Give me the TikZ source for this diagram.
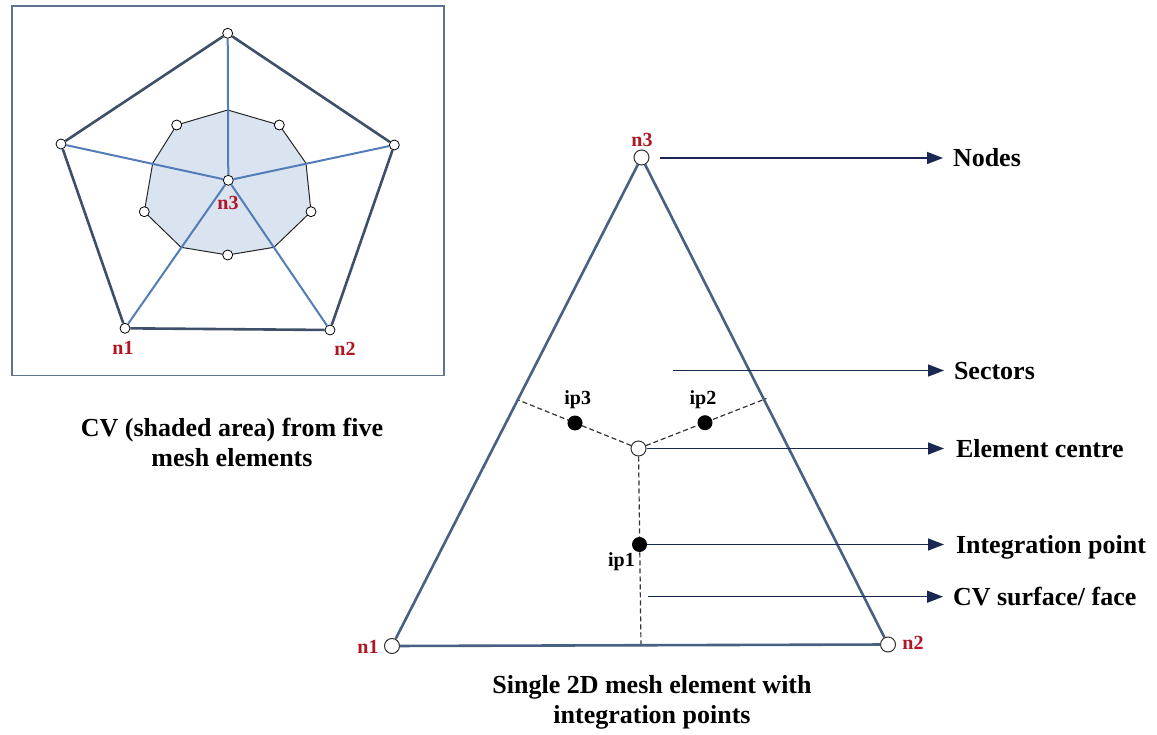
\documentclass[tikz,border=0pt]{standalone}
\usepackage{fontspec}
\setmainfont{Liberation Serif}
\usetikzlibrary{arrows.meta}
\definecolor{edgeblue}{RGB}{72,96,130}
\definecolor{pentedge}{RGB}{62,80,105}
\definecolor{spoke}{RGB}{82,125,182}
\definecolor{cvfill}{RGB}{218,227,240}
\definecolor{boxline}{RGB}{95,115,145}
\definecolor{navy}{RGB}{25,40,82}
\definecolor{lblred}{RGB}{178,22,34}
\tikzset{
  smallpt/.style={circle,draw=black,fill=white,line width=0.8pt,minimum size=10pt,inner sep=0pt},
  bigpt/.style={circle,draw=black!80,fill=white,line width=1pt,minimum size=15pt,inner sep=0pt},
  ippt/.style={circle,fill=black,minimum size=15pt,inner sep=0pt},
  redlbl/.style={text=lblred,font=\bfseries\fontsize{20}{23}\selectfont,inner sep=0pt},
  iplbl/.style={text=black,font=\bfseries\fontsize{20}{23}\selectfont,inner sep=0pt},
  pentline/.style={draw=pentedge,line width=2.6pt},
  spokeline/.style={draw=spoke,line width=2pt},
  triline/.style={draw=edgeblue,line width=2.6pt},
  dashline/.style={draw=black!80,line width=1.2pt,dash pattern=on 5pt off 3pt},
  arr/.style={draw=navy,line width=1.5pt,-{Triangle[length=16pt,width=12pt]}},
  keytext/.style={anchor=west,inner sep=0pt,outer sep=0pt,font=\bfseries\fontsize{26}{30}\selectfont,text height=17pt,text depth=0pt},
  caption/.style={align=center,font=\bfseries\fontsize{26}{30}\selectfont,inner sep=0pt}
}
\begin{document}
\begin{tikzpicture}[x=1pt,y=-1pt]
\useasboundingbox (0,0) rectangle (1157,735);
% ---------- left panel ----------
\draw[boxline,line width=1.5pt] (12,6) rectangle (444,375.5);
% control volume (decagon)
\coordinate (d1) at (227.7,110);
\coordinate (d2) at (279.3,125);
\coordinate (d3) at (306,163.3);
\coordinate (d4) at (311,211.7);
\coordinate (d5) at (274,247.3);
\coordinate (d6) at (227.7,255);
\coordinate (d7) at (181,247.3);
\coordinate (d8) at (144.3,211.7);
\coordinate (d9) at (152.7,163.3);
\coordinate (d10) at (176.7,125);
\filldraw[fill=cvfill,draw=black!85,line width=1pt] (d1) -- (d2) -- (d3) -- (d4) -- (d5) -- (d6) -- (d7) -- (d8) -- (d9) -- (d10) -- cycle;
% pentagon nodes
\node[smallpt] (P1) at (227.7,33.3) {};
\node[smallpt] (P2) at (394.3,145) {};
\node[smallpt] (P3) at (330,330) {};
\node[smallpt] (P4) at (125,328.3) {};
\node[smallpt] (P5) at (61,144) {};
\node[smallpt] (PC) at (228.3,180.3) {};
\foreach \p in {P1,P2,P3,P4,P5} \draw[spokeline] (PC) -- (\p);
\draw[pentline] (P1) -- (P2);
\draw[pentline] (P2) -- (P3);
\draw[pentline] (P3) -- (P4);
\draw[pentline] (P4) -- (P5);
\draw[pentline] (P5) -- (P1);
\node[smallpt] (c2) at (d2) {};
\node[smallpt] (c4) at (d4) {};
\node[smallpt] (c6) at (d6) {};
\node[smallpt] (c8) at (d8) {};
\node[smallpt] (c10) at (d10) {};
\node[redlbl] (Ln3) at (228,203) {n3};
\node[redlbl] (Ln1) at (123,348) {n1};
\node[redlbl] (Ln2) at (345,349) {n2};
\node[caption] (capL) at (232,442) {CV (shaded area) from five\\mesh elements};
% ---------- right panel ----------
\node[bigpt] (N1) at (392,646) {};
\node[bigpt] (N2) at (888,644.5) {};
\node[bigpt] (N3) at (641.5,157.5) {};
\coordinate (m13) at (517,399.5);
\coordinate (m23) at (766.5,398.5);
\coordinate (mb) at (641,646);
\draw[dashline] (638.5,448.5) -- (m13);
\draw[dashline] (638.5,448.5) -- (m23);
\draw[dashline] (638.5,448.5) -- (mb);
\draw[triline] (N1) -- (N3);
\draw[triline] (N3) -- (N2);
\draw[triline] (N1) -- (N2);
\node[bigpt] (E) at (638.5,448.5) {};
\node[ippt] (ip1) at (639.5,544.5) {};
\node[ippt] (ip2) at (705,422.7) {};
\node[ippt] (ip3) at (575,423) {};
\node[redlbl] (Rn3) at (642,140) {n3};
\node[redlbl] (Rn1) at (368,647) {n1};
\node[redlbl] (Rn2) at (913,643) {n2};
\node[iplbl] (Lip1) at (621.5,561.5) {ip1};
\node[iplbl] (Lip2) at (703,400) {ip2};
\node[iplbl] (Lip3) at (577.7,400) {ip3};
% key
\node[keytext] (kNodes) at (953,158) {Nodes};
\node[keytext] (kSectors) at (954,370.5) {Sectors};
\node[keytext] (kCentre) at (956,448.5) {Element centre};
\node[keytext] (kIP) at (956,544.5) {Integration point};
\node[keytext] (kCV) at (953,596.7) {CV surface/ face};
\coordinate (sNodes) at (660,158);
\coordinate (sSectors) at (673,370.5);
\coordinate (sCV) at (648,596.7);
\draw[arr,shorten >=10pt] (sNodes) -- (kNodes.west);
\draw[arr,shorten >=10pt] (sSectors) -- (kSectors.west);
\draw[arr,shorten >=12pt] (E) -- (kCentre.west);
\draw[arr,shorten >=12pt] (ip1) -- (kIP.west);
\draw[arr,shorten >=10pt] (sCV) -- (kCV.west);
\node[caption] (capR) at (652,702) {Single 2D mesh element with\\integration points};
\end{tikzpicture}
\end{document}
